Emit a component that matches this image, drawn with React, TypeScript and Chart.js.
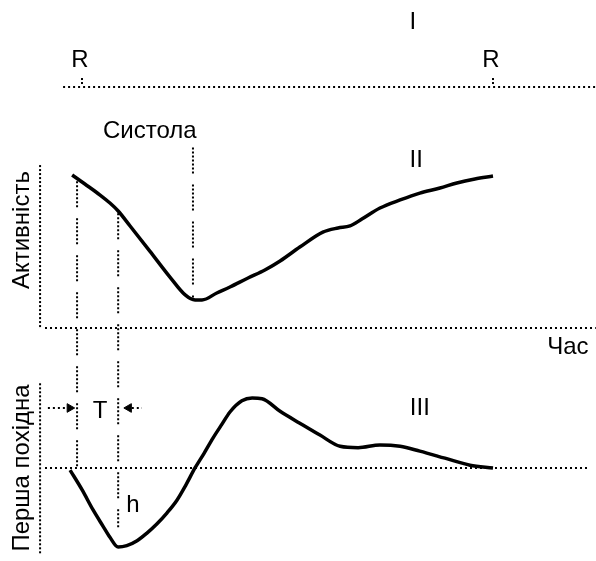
import React, { useEffect, useRef } from "react";
import { Chart, registerables } from "chart.js";

Chart.register(...registerables);

// Time in % of the R–R interval
const activityT = [-2.4, 0.7, 4.4, 6.8, 8.8, 11.7, 16.5, 21.4, 25.1, 27.5, 29.2, 32.8, 36.0, 40.4, 44.5, 48.2, 53.0, 58.6, 62.3, 65.2, 68.1, 72.5, 77.4, 82.2, 87.1, 91.2, 95.6, 100];
const activityV = [100, 94.1, 86.9, 81.7, 76.5, 66.7, 50.3, 33.3, 21.6, 18.3, 18.3, 22.9, 26.8, 32.7, 37.9, 43.8, 52.9, 62.7, 65.4, 66.7, 71.2, 78.4, 83.7, 88.2, 91.5, 94.8, 97.4, 99.3];

const derivT = [-2.9, 0, 2.7, 5.1, 6.8, 8.8, 10.9, 13.4, 15.8, 18.2, 20.7, 23.1, 25.3, 27.5, 29.7, 31.9, 34.1, 36.0, 38.9, 41.4, 43.8, 48.2, 53.0, 57.9, 62.8, 67.2, 72.5, 77.4, 82.2, 88.3, 94.4, 100];
const derivV = [-3, -31, -60, -83, -99, -113, -111, -104, -93, -80, -64, -46, -24, 0, 21, 43, 63, 80, 96, 100, 99, 81, 64, 47, 31, 29, 33, 31, 24, 14, 4, 0];

const rPeaks = [0, 100];
const rLabel = "R";
const qT = -1.2;          // start of the cycle (vertical marker)
const tEndT = 8.8;        // end of T interval
const systoleEndT = 27;   // end of systole

const labelTexts = ["I", "Систола", "II", "Час"];
const labelT = [80.5, 16.5, 81.3, 118.2];
const labelA = [200, 128.8, 109.8, -12.4];

const derivLabelTexts = ["III", "T", "h"];
const derivLabelT = [82.2, 4.4, 12.4];
const derivLabelD = [85.7, 81, -53];

const yTitleTop = "Активність";
const yTitleBottom = "Перша похідна";

const FONT = "24px 'Liberation Sans', Arial, sans-serif";

export default function App() {
  const ref = useRef<HTMLCanvasElement | null>(null);
  useEffect(() => {
    const canvas = ref.current!;
    const dotted = { borderColor: "#000", borderWidth: 2, borderDash: [2, 3], pointRadius: 0, showLine: true, fill: false };
    const dottedV = { ...dotted, borderDash: [2, 2] };
    const grouped = { ...dotted, borderDash: [2, 2, 2, 2, 2, 2, 2, 2, 2, 2, 2, 2, 2, 11] };
    const pts = (xs: number[], ys: number[]) => xs.map((x, i) => ({ x, y: ys[i] }));
    const arrow = (x: number, rot: number) => ({
      yAxisID: "yD", data: [{ x, y: 85.7 }], pointStyle: "triangle", rotation: rot, pointRadius: 5,
      backgroundColor: "#000", borderColor: "#000", borderWidth: 1, showLine: false,
    });
    const curve = { showLine: true, borderColor: "#000", borderWidth: 3.5, pointRadius: 0, cubicInterpolationMode: "monotone", fill: false };

    const textPlugin = {
      id: "texts",
      afterDatasetsDraw(chart: any) {
        const { ctx, scales } = chart;
        const x = scales.x, yA = scales.yA, yD = scales.yD;
        ctx.save();
        ctx.fillStyle = "#000";
        ctx.font = FONT;
        ctx.textAlign = "center";
        ctx.textBaseline = "middle";
        labelTexts.forEach((t, i) => ctx.fillText(t, x.getPixelForValue(labelT[i]), yA.getPixelForValue(labelA[i])));
        rPeaks.forEach((t) => ctx.fillText(rLabel, x.getPixelForValue(t - 0.5), yA.getPixelForValue(175)));
        derivLabelTexts.forEach((t, i) => ctx.fillText(t, x.getPixelForValue(derivLabelT[i]), yD.getPixelForValue(derivLabelD[i])));
        const drawRot = (s: string, px: number, py: number) => {
          ctx.save();
          ctx.translate(px, py);
          ctx.rotate(-Math.PI / 2);
          ctx.fillText(s, 0, 0);
          ctx.restore();
        };
        drawRot(yTitleTop, x.getPixelForValue(-14.6), yA.getPixelForValue(64));
        drawRot(yTitleBottom, x.getPixelForValue(-14.6), yD.getPixelForValue(0));
        ctx.restore();
      },
    };

    const chart = new Chart(canvas, {
      type: "scatter",
      data: {
        datasets: [
          { ...dotted, yAxisID: "yA", data: [{ x: -4.6, y: 157.5 }, { x: 125, y: 157.5 }] },
          ...rPeaks.map((t) => ({ ...dottedV, yAxisID: "yA", data: [{ x: t, y: 163.4 }, { x: t, y: 158.5 }] })),
          { ...dottedV, yAxisID: "yA", data: [{ x: -10.2, y: 106.5 }, { x: -10.2, y: 0 }] },
          { ...dotted, yAxisID: "yA", data: [{ x: -9.0, y: 0 }, { x: 125, y: 0 }] },
          { ...dottedV, yAxisID: "yD", data: [{ x: -10.2, y: 121 }, { x: -10.2, y: -124 }] },
          { ...dotted, yAxisID: "yD", data: [{ x: -9.0, y: 0 }, { x: 123.6, y: 0 }] },
          { ...grouped, yAxisID: "yA", data: [{ x: qT, y: 96 }, { x: qT, y: -91.5 }] },
          { ...grouped, yAxisID: "yA", data: [{ x: tEndT, y: 75 }, { x: tEndT, y: -130.7 }] },
          { ...grouped, yAxisID: "yA", data: [{ x: systoleEndT, y: 118 }, { x: systoleEndT, y: 19 }] },
          { ...dotted, yAxisID: "yD", data: [{ x: -8.3, y: 85.7 }, { x: -2.7, y: 85.7 }] },
          { ...dotted, yAxisID: "yD", data: [{ x: 10.9, y: 85.7 }, { x: 14.6, y: 85.7 }] },
          arrow(-3.0, 90),
          arrow(11.4, -90),
          { ...curve, yAxisID: "yA", data: pts(activityT, activityV) },
          { ...curve, yAxisID: "yD", data: pts(derivT, derivV) },
        ],
      },
      options: {
        animation: false,
        responsive: false,
        devicePixelRatio: 1,
        layout: { padding: 0, autoPadding: false },
        plugins: { legend: { display: false }, tooltip: { enabled: false } },
        scales: {
          x: { type: "linear", min: -19.95, max: 125.06, display: false },
          yA: { type: "linear", position: "left", min: -152.3, max: 214.4, display: false },
          yD: { type: "linear", position: "left", min: -132.9, max: 668.6, display: false },
        },
      },
      plugins: [textPlugin],
    } as any);
    return () => chart.destroy();
  }, []);
  return (
    <canvas
      ref={ref}
      width={596}
      height={561}
      style={{ position: "fixed", left: 0, top: 0, width: 596, height: 561, background: "#fff" }}
    />
  );
}
